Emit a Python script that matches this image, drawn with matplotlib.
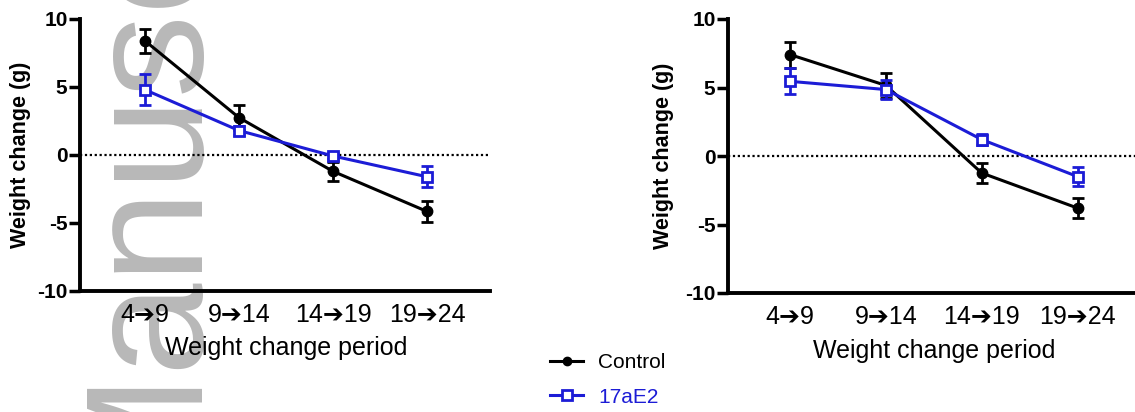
import matplotlib
matplotlib.use("Agg")
import matplotlib.pyplot as plt
from matplotlib.lines import Line2D

plt.rcParams['font.family'] = ['Liberation Sans', 'DejaVu Sans']

# ----------------------- Data -----------------------
periods = ["4\u27949", "9\u279414", "14\u279419", "19\u279424"]

# left panel
left_ctrl = [8.4, 2.75, -1.2, -4.15]
left_ctrl_err = [0.87, 0.9, 0.7, 0.8]
left_e2 = [4.8, 1.8, -0.07, -1.6]
left_e2_err = [1.15, 0.35, 0.25, 0.78]

# right panel
right_ctrl = [7.4, 5.15, -1.24, -3.8]
right_ctrl_err = [0.95, 0.9, 0.7, 0.75]
right_e2 = [5.45, 4.85, 1.2, -1.5]
right_e2_err = [0.95, 0.7, 0.4, 0.7]

yticks = [-10, -5, 0, 5, 10]

BLUE = '#1c1cd6'

fig = plt.figure(figsize=(11.35, 4.12), dpi=100)

# watermark behind everything
fig.text(189 / 1135, 1 - 500 / 412, "Manuscript", rotation=90,
         rotation_mode='anchor', ha='left', va='baseline',
         fontsize=120, color='#b8b8b8', zorder=-5)


def draw_panel(ax, ctrl, ctrl_err, e2, e2_err, xlim):
    x = list(range(len(periods)))
    ax.patch.set_visible(False)
    ax.axhline(0, color='black', lw=1.6, ls=(0, (1, 1.2)), zorder=1)
    ax.errorbar(x, ctrl, yerr=ctrl_err, color='black', lw=2.2,
                marker='o', ms=7.5, capsize=4.5, capthick=2, elinewidth=2,
                zorder=3, clip_on=False)
    ax.errorbar(x, e2, yerr=e2_err, color=BLUE, lw=2.2,
                marker='s', ms=7.5, mfc='white', mec=BLUE, mew=2,
                capsize=4.5, capthick=2, elinewidth=2, zorder=4, clip_on=False)
    ax.set_xlim(*xlim)
    ax.set_ylim(-10, 10)
    ax.set_yticks(yticks)
    ax.set_yticklabels([str(v) for v in yticks], fontweight='bold', fontsize=15)
    ax.set_xticks(x)
    ax.set_xticklabels(periods, fontsize=18)
    ax.tick_params(axis='x', length=0, pad=9)
    ax.tick_params(axis='y', length=8, width=2.5, pad=1)
    for side in ['top', 'right']:
        ax.spines[side].set_visible(False)
    for side in ['left', 'bottom']:
        ax.spines[side].set_linewidth(2.8)
    ax.set_ylabel("Weight change (g)", fontsize=15.5, fontweight='bold')
    ax.yaxis.label.set_va('center')
    ax.set_xlabel("Weight change period", fontsize=18)
    ax.xaxis.label.set_va('center')
    frac = (1.5 - xlim[0]) / (xlim[1] - xlim[0])
    ax.xaxis.set_label_coords(frac, -0.21)


ax1 = fig.add_axes([80 / 1135, 1 - 291 / 412, 410 / 1135, 272 / 412])
draw_panel(ax1, left_ctrl, left_ctrl_err, left_e2, left_e2_err, (-0.69, 3.67))
ax1.yaxis.set_label_coords(-60 / 410, 0.5)

ax2 = fig.add_axes([728 / 1135, 1 - 293 / 412, 407 / 1135, 274 / 412])
draw_panel(ax2, right_ctrl, right_ctrl_err, right_e2, right_e2_err, (-0.648, 3.6))
ax2.yaxis.set_label_coords(-64 / 407, 0.5)

handles = [
    Line2D([], [], color='black', lw=2.2, marker='o', ms=6),
    Line2D([], [], color=BLUE, lw=2.2, marker='s', ms=6.5, mfc='white', mec=BLUE, mew=2),
]
fig.legend(handles, ["Control", "17aE2"], loc='upper left',
           bbox_to_anchor=(550 / 1135, 1 - 353 / 412), frameon=False,
           fontsize=15, handlelength=1.6, handletextpad=0.7,
           labelspacing=0.75, borderpad=0, borderaxespad=0,
           labelcolor=['black', BLUE])

fig.savefig("out.png", dpi=100)
